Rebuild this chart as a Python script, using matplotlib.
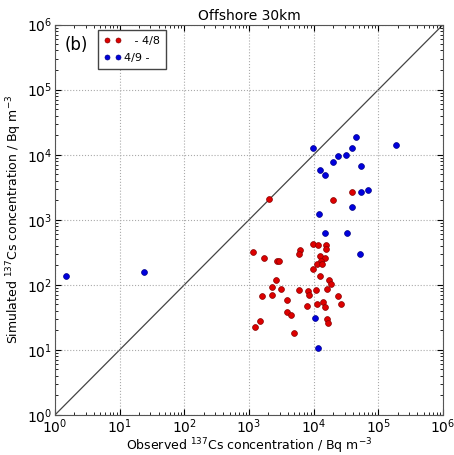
import matplotlib
matplotlib.use('Agg')
import matplotlib.pyplot as plt

# observed / simulated 137Cs, Bq m-3
obs_48 = [38600, 19800, 2050, 1150, 1700, 6200, 5900, 9700, 11500, 15600, 15400,
          12300, 15000, 2670, 2860, 12800, 11300, 13400, 9900, 12600, 17000, 18300,
          2600, 2270, 3080, 1590, 2270, 5900, 8300, 8500, 11000, 15900, 24000,
          26300, 14000, 11200, 15000, 7900, 3800, 3900, 4500, 16200, 16400, 1490,
          1250, 5000]
sim_48 = [2680, 2040, 2050, 325, 257, 344, 302, 420, 407, 407, 360,
          275, 257, 235, 229, 234, 212, 210, 174, 135, 120, 103,
          120, 93, 86, 68, 71, 84, 79, 69, 83, 86, 68,
          51, 54, 51, 45, 48, 59, 38.6, 34.6, 29.7, 26.2, 27.7,
          22.4, 18.5]

obs_49 = [9800, 44500, 185000, 38500, 24000, 31500, 19600, 54000, 12600, 15000,
          70000, 53700, 39500, 12000, 15000, 33000, 52500, 10500, 11500, 1.48, 24]
sim_49 = [12900, 19000, 13900, 12900, 9400, 9800, 7600, 6800, 5800, 4900,
          2900, 2630, 1590, 1220, 630, 635, 302, 31, 10.8, 138, 160]

fig = plt.figure(figsize=(4.54, 4.55), dpi=100)
ax = fig.add_axes([0.121, 0.088, 0.855, 0.858])

ax.plot([1, 1e6], [1, 1e6], color='#444444', lw=0.9, zorder=1)
ax.plot(obs_48, sim_48, 'o', color='#dd0000', mec='#880000', mew=0.5, ms=4.2,
        label='   - 4/8', zorder=3)
ax.plot(obs_49, sim_49, 'o', color='#0000dd', mec='#000088', mew=0.5, ms=4.2,
        label='4/9 -', zorder=3)

ax.set_xscale('log')
ax.set_yscale('log')
ax.set_xlim(1, 1e6)
ax.set_ylim(1, 1e6)
ax.grid(True, which='major', color='#aaaaaa', linestyle=':', lw=0.8)
ax.tick_params(which='both', direction='in', top=True, right=True, labelsize=10, pad=2)
ax.tick_params(which='major', length=4)
ax.tick_params(which='minor', length=2)
for s in ax.spines.values():
    s.set_color('#555555')

ax.set_title('Offshore 30km', fontsize=10, pad=3)
ax.set_xlabel('Observed $^{137}$Cs concentration / Bq m$^{-3}$', fontsize=9, labelpad=0)
ax.set_ylabel('Simulated $^{137}$Cs concentration / Bq m$^{-3}$', fontsize=9, labelpad=2)
ax.text(0.025, 0.97, '(b)', transform=ax.transAxes, fontsize=12, va='top')

leg = ax.legend(loc='upper left', bbox_to_anchor=(0.11, 0.986), numpoints=2,
                fontsize=8, fancybox=False, framealpha=1, handletextpad=0.3,
                handlelength=1.6, borderpad=0.5, labelspacing=0.7, borderaxespad=0,
                markerscale=0.85)
leg.get_frame().set_edgecolor('#444444')

fig.savefig('out.png', dpi=100)
